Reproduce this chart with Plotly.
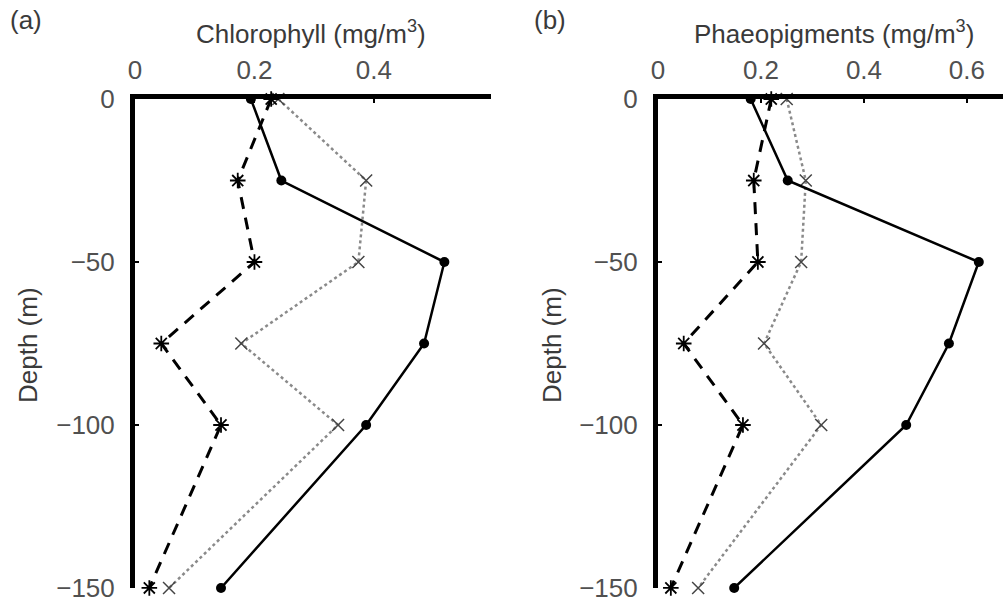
import plotly.graph_objects as go

depth = [0, -25, -50, -75, -100, -150]

chl_solid = [0.194, 0.245, 0.518, 0.484, 0.387, 0.144]
chl_dashed = [0.228, 0.172, 0.200, 0.044, 0.144, 0.024]
chl_dotted = [0.240, 0.387, 0.374, 0.178, 0.340, 0.057]

pha_solid = [0.180, 0.252, 0.623, 0.565, 0.482, 0.148]
pha_dashed = [0.220, 0.186, 0.194, 0.050, 0.165, 0.025]
pha_dotted = [0.250, 0.287, 0.278, 0.206, 0.317, 0.078]

x_ticks_a = [0, 0.2, 0.4]
x_ticks_b = [0, 0.2, 0.4, 0.6]
y_ticks = [0, -50, -100, -150]

fig = go.Figure()

def add_panel(xa, ya, solid, dashed, dotted):
    fig.add_trace(go.Scatter(x=dotted, y=depth, xaxis=xa, yaxis=ya, mode="lines+markers",
                             line=dict(color="#8a8a8a", width=2.5, dash="dot"),
                             marker=dict(symbol="x-thin-open", size=12, color="#444",
                                         line=dict(width=1.5, color="#444")),
                             cliponaxis=False, showlegend=False))
    fig.add_trace(go.Scatter(x=dashed, y=depth, xaxis=xa, yaxis=ya, mode="lines+markers",
                             line=dict(color="black", width=3, dash="12px,9px"),
                             marker=dict(symbol="asterisk-open", size=13, color="black",
                                         line=dict(width=1.8, color="#222")),
                             cliponaxis=False, showlegend=False))
    fig.add_trace(go.Scatter(x=solid, y=depth, xaxis=xa, yaxis=ya, mode="lines+markers",
                             line=dict(color="black", width=2.5),
                             marker=dict(symbol="circle", size=10, color="black"),
                             cliponaxis=False, showlegend=False))

add_panel("x", "y", chl_solid, chl_dashed, chl_dotted)
add_panel("x2", "y2", pha_solid, pha_dashed, pha_dotted)

FONT = "Liberation Sans, Arial, sans-serif"
tickfont = dict(family=FONT, size=26, color="#505050")
xcommon = dict(side="top", showline=True, linewidth=5, linecolor="black", showgrid=False,
               zeroline=False, ticks="inside", ticklen=4, tickwidth=2, tickcolor="black",
               tickfont=tickfont, ticklabelstandoff=5, automargin=False,
               ticklabeloverflow="allow")
ycommon = dict(showline=True, linewidth=5, linecolor="black", showgrid=False, zeroline=False,
               ticks="inside", ticklen=4, tickwidth=2, tickcolor="black", tickfont=tickfont,
               range=[-150, 0], tickvals=y_ticks, domain=[0.0233, 0.8355],
               ticklabelstandoff=10, automargin=False, ticklabeloverflow="allow")

fig.update_layout(
    width=1003, height=602,
    margin=dict(l=0, r=0, t=0, b=0),
    paper_bgcolor="white", plot_bgcolor="white",
    xaxis=dict(xcommon, domain=[0.1346, 0.4895], range=[0, 0.596], tickvals=x_ticks_a,
               anchor="y"),
    yaxis=dict(ycommon, anchor="x"),
    xaxis2=dict(xcommon, domain=[0.656, 1.0], range=[0, 0.670], tickvals=x_ticks_b,
                anchor="y2"),
    yaxis2=dict(ycommon, anchor="x2"),
)

afont = dict(family=FONT, size=26, color="#3a3a3a")
anns = [
    dict(text="(a)", x=26 / 1003, y=1 - 20 / 602),
    dict(text="(b)", x=550 / 1003, y=1 - 20 / 602),
    dict(text="Chlorophyll (mg/m<sup>3</sup>)", x=311 / 1003, y=1 - 32 / 602),
    dict(text="Phaeopigments (mg/m<sup>3</sup>)", x=834 / 1003, y=1 - 32 / 602),
    dict(text="Depth (m)", x=28 / 1003, y=1 - 345 / 602, textangle=-90),
    dict(text="Depth (m)", x=552 / 1003, y=1 - 345 / 602, textangle=-90),
]
for a in anns:
    fig.add_annotation(xref="paper", yref="paper", showarrow=False, font=afont,
                       xanchor="center", yanchor="middle", **a)

fig.write_html("out.html", config={"displayModeBar": False},
               post_script="document.body.style.margin='0';document.body.style.overflow='hidden';")
